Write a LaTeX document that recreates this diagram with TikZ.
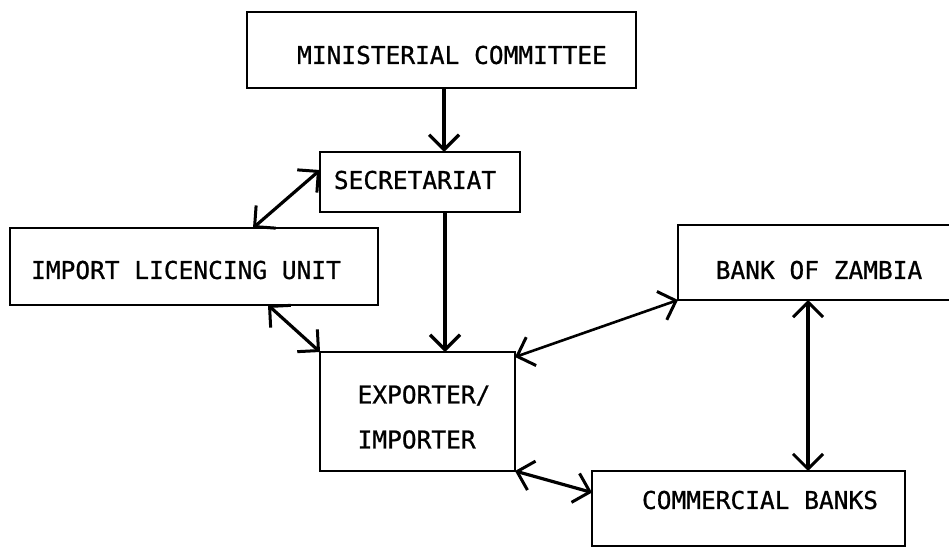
\documentclass[tikz,border=0pt]{standalone}
\usepackage{fontspec}
\setmonofont[FakeBold=0.8]{DejaVu Sans Mono}
\usetikzlibrary{arrows.meta}
\tikzset{
  box/.style={draw, line width=2.2pt, inner sep=0pt, outer sep=0pt, rectangle},
  lbl/.style={inner sep=0pt, font=\fontsize{24.5}{45}\selectfont\ttfamily},
  arr/.style={line width=3.6pt, -{Straight Barb[length=15pt,width=30pt,line width=3.2pt]}},
  darr/.style={line width=3.2pt, {Straight Barb[length=15pt,width=30pt,line width=3pt]}-{Straight Barb[length=15pt,width=30pt,line width=3pt]}}
}
\begin{document}
\begin{tikzpicture}[x=1pt,y=-1pt]
\clip (0,0) rectangle (949,547);
\fill[white] (0,0) rectangle (949,547);
% boxes
\node[box, minimum width=389pt, minimum height=76pt] (min) at (441.5,50) {};
\node[box, minimum width=200pt, minimum height=60pt] (sec) at (420,182) {};
\node[box, minimum width=368pt, minimum height=77pt] (imp) at (194,266.5) {};
\node[box, minimum width=282pt, minimum height=75pt] (bank) at (819,262.5) {};
\node[box, minimum width=195pt, minimum height=119pt] (exp) at (417.5,411.5) {};
\node[box, minimum width=313pt, minimum height=75pt] (com) at (748.5,508.5) {};
% labels
\node[lbl] (tmin) at (452,55) {MINISTERIAL COMMITTEE};
\node[lbl] (tsec) at (415,180) {SECRETARIAT};
\node[lbl] (timp) at (186,270) {IMPORT LICENCING UNIT};
\node[lbl] (tbank) at (819,270) {BANK OF ZAMBIA};
\node[lbl, align=left] (texp) at (424,417) {EXPORTER/\\IMPORTER};
\node[lbl] (tcom) at (760,500) {COMMERCIAL BANKS};
% connectors
\draw[arr] ([xshift=2.5pt]min.south) -- ([xshift=2.5pt]min.south |- sec.north);
\draw[arr] ([xshift=25pt]sec.south) -- ([xshift=25pt]sec.south |- exp.north);
\draw[darr] ([xshift=243pt]imp.north west) -- ([yshift=12pt]sec.west);
\draw[darr] ([xshift=258pt]imp.south west) -- (exp.north west);
\draw[darr, line width=2.6pt] ([yshift=-5pt]exp.north east) -- (bank.south west);
\draw[darr] (exp.south east) -- ([yshift=16pt]com.west);
\draw[darr] ([xshift=-11pt]bank.south) -- ([xshift=-11pt]bank.south |- com.north);
\end{tikzpicture}
\end{document}
